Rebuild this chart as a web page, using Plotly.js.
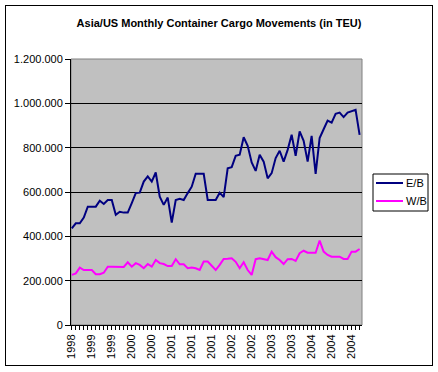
<!DOCTYPE html>
<html>
<head>
<meta charset="utf-8">
<script src="https://cdn.plot.ly/plotly-3.0.1.min.js"></script>
<style>
  html, body { margin: 0; padding: 0; background: #fff; }
  #wrap { position: relative; width: 438px; height: 372px; }
  #chart { position: absolute; left: 0; top: 0; width: 438px; height: 372px; }
  #frame { position: absolute; left: 5px; top: 5px; width: 426px; height: 359px;
           border: 1px solid #000; pointer-events: none; }
</style>
</head>
<body>
<div id="wrap">
  <div id="chart"></div>
  <div id="frame"></div>
</div>
<script>
// Month index (0 = first month in the series)
const monthIndex = Array.from({length: 73}, (_, i) => i);

// Year labels shown on the category axis (every 5th month)
const xTickPositions = [0, 5, 10, 15, 20, 25, 30, 35, 40, 45, 50, 55, 60, 65, 70];
const xTickLabels = ["1998", "1999", "1999", "2000", "2000", "2001", "2001", "2001",
                     "2002", "2002", "2003", "2003", "2004", "2004", "2004"];

// Eastbound (E/B), thousand TEU per month
const eastbound = [436, 459, 459, 485, 534, 534, 534, 561, 546, 564,
                   564, 497, 511, 507, 507, 550, 595, 597, 647, 670,
                   647, 688, 579, 542, 575, 462, 564, 569, 564, 595,
                   624, 682, 682, 682, 564, 564, 564, 597, 577, 707,
                   712, 763, 768, 847, 808, 733, 695, 768, 737, 662,
                   685, 753, 786, 737, 790, 858, 763, 873, 831, 737,
                   853, 682, 843, 883, 922, 913, 953, 958, 938, 958,
                   965, 971, 858];

// Westbound (W/B), thousand TEU per month
const westbound = [226, 233, 259, 248, 248, 248, 229, 229, 236, 263,
                   263, 263, 263, 262, 283, 263, 279, 271, 256, 275,
                   263, 293, 279, 275, 266, 266, 297, 274, 274, 256,
                   259, 256, 248, 286, 286, 266, 248, 271, 298, 299,
                   301, 285, 256, 283, 248, 226, 297, 301, 297, 293,
                   331, 306, 293, 275, 297, 298, 289, 324, 335, 326,
                   326, 326, 381, 331, 316, 308, 308, 308, 298, 298,
                   331, 331, 343];

const seriesNames = ["E/B", "W/B"];
const seriesColors = ["#000080", "#FF00FF"];

const yTickVals = [0, 200, 400, 600, 800, 1000, 1200];
const yTickText = ["0", "200.000", "400.000", "600.000", "800.000", "1.000.000", "1.200.000"];

const FONT = "Arial, 'Liberation Sans', sans-serif";

// plot area in pixels (for placing the legend box in paper coordinates)
const PL = 71, PR = 362, PT = 59, PB = 325;
const px = v => (v - PL) / (PR - PL);
const py = v => 1 - (v - PT) / (PB - PT);

const traces = [eastbound, westbound].map((vals, k) => ({
  type: "scatter",
  mode: "lines",
  x: monthIndex,
  y: vals,
  name: seriesNames[k],
  line: {color: seriesColors[k], width: 2},
  hoverinfo: "skip"
}));

// Excel-style legend box
const legendShapes = [{
  type: "rect", xref: "paper", yref: "paper",
  x0: px(373), x1: px(428), y0: py(211), y1: py(174),
  line: {color: "#000", width: 1}, fillcolor: "#FFFFFF", layer: "above"
}];
const legendAnnotations = [];
seriesNames.forEach((name, k) => {
  const rowY = 183 + k * 18;
  legendShapes.push({
    type: "line", xref: "paper", yref: "paper",
    x0: px(376), x1: px(403), y0: py(rowY), y1: py(rowY),
    line: {color: seriesColors[k], width: 2}, layer: "above"
  });
  legendAnnotations.push({
    xref: "paper", yref: "paper", x: px(404), y: py(rowY),
    xanchor: "left", yanchor: "middle", showarrow: false,
    text: name, font: {family: FONT, size: 11, color: "#000"}
  });
});

const layout = {
  width: 438,
  height: 372,
  margin: {l: PL, r: 438 - PR, t: PT, b: 372 - PB, pad: 0},
  paper_bgcolor: "#FFFFFF",
  plot_bgcolor: "#C0C0C0",
  font: {family: FONT, size: 11, color: "#000"},
  title: {
    text: "<b>Asia/US Monthly Container Cargo Movements (in TEU)</b>",
    font: {family: FONT, size: 11, color: "#000"},
    x: 0.5, xanchor: "center",
    y: 1 - 23 / 372, yanchor: "middle", yref: "container"
  },
  xaxis: {
    range: [-0.2, 72.6],
    tickmode: "array",
    tickvals: xTickPositions,
    ticktext: xTickLabels,
    tickangle: -90,
    ticks: "outside",
    ticklen: 4,
    tickcolor: "#000",
    tickwidth: 1,
    showline: true,
    linecolor: "#000",
    linewidth: 1,
    showgrid: false,
    zeroline: false,
    tickfont: {family: FONT, size: 11, color: "#000"},
    minor: {tickmode: "linear", tick0: 0, dtick: 1, ticks: "outside", ticklen: 4,
            tickcolor: "#000", tickwidth: 1, showgrid: false}
  },
  yaxis: {
    range: [0, 1200],
    tickmode: "array",
    tickvals: yTickVals,
    ticktext: yTickText,
    ticks: "outside",
    ticklen: 5,
    tickcolor: "#000",
    tickwidth: 1,
    showline: true,
    linecolor: "#000",
    linewidth: 1,
    showgrid: true,
    gridcolor: "#000",
    gridwidth: 1,
    zeroline: false,
    tickfont: {family: FONT, size: 11, color: "#000"}
  },
  shapes: [{
    type: "rect", xref: "paper", yref: "paper", x0: 0, x1: 1, y0: 0, y1: 1,
    line: {color: "#808080", width: 1}, fillcolor: "rgba(0,0,0,0)", layer: "below"
  }].concat(legendShapes),
  annotations: legendAnnotations,
  showlegend: false
};

Plotly.newPlot("chart", traces, layout, {displayModeBar: false, staticPlot: true});
</script>
</body>
</html>
